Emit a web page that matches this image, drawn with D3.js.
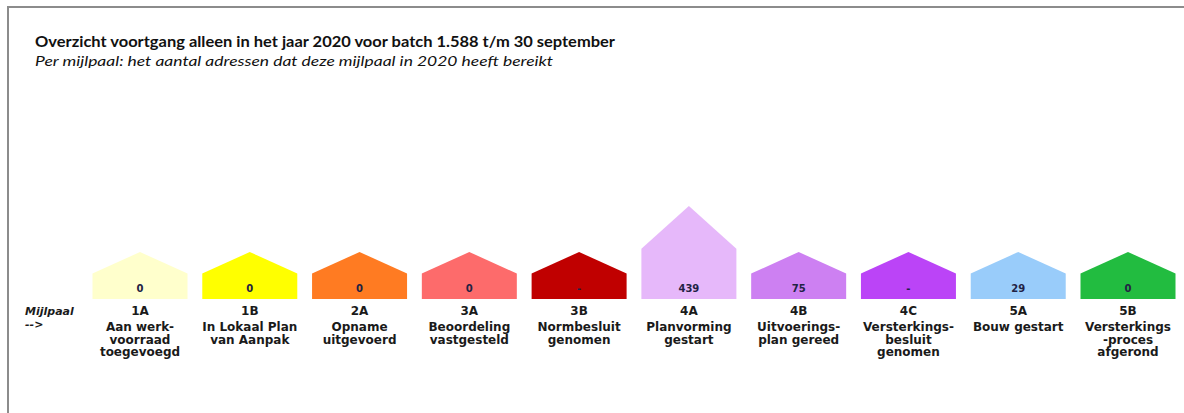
<!DOCTYPE html>
<html><head><meta charset="utf-8">
<script src="https://cdn.jsdelivr.net/npm/d3@7"></script>
<style>html,body{margin:0;padding:0;background:#fff;}svg{display:block;}</style>
</head><body>
<script>
const title = "Overzicht voortgang alleen in het jaar 2020 voor batch 1.588 t/m 30 september";
const subtitle = "Per mijlpaal: het aantal adressen dat deze mijlpaal in 2020 heeft bereikt";
const codes = ["1A","1B","2A","3A","3B","4A","4B","4C","5A","5B"];
const values = [0, 0, 0, 0, null, 439, 75, null, 29, 0];
const labels = [
  ["Aan werk-","voorraad","toegevoegd"],
  ["In Lokaal Plan","van Aanpak"],
  ["Opname","uitgevoerd"],
  ["Beoordeling","vastgesteld"],
  ["Normbesluit","genomen"],
  ["Planvorming","gestart"],
  ["Uitvoerings-","plan gereed"],
  ["Versterkings-","besluit","genomen"],
  ["Bouw gestart"],
  ["Versterkings","-proces","afgerond"]
];
const colors = ["#FFFFCC","#FFFF00","#FF7B22","#FD6B6B","#C00000","#E6B8FA","#CD80F2","#BB44F7","#99CCFA","#22BC40"];
const rowLabel = ["Mijlpaal","-->"];

const W = 1184, H = 413;
const svg = d3.select("body").append("svg").attr("width", W).attr("height", H);

svg.append("rect").attr("x", 8).attr("y", 7).attr("width", W + 10).attr("height", H + 10)
  .attr("fill", "none").attr("stroke", "#8c8c8c").attr("stroke-width", 2);

svg.append("text").attr("x", 35).attr("y", 47).text(title)
  .attr("font-family", "Lato").attr("font-weight", "bold").attr("font-size", 15)
  .attr("fill", "#111").attr("textLength", 580).attr("lengthAdjust", "spacingAndGlyphs");
svg.append("text").attr("x", 35).attr("y", 66).text(subtitle)
  .attr("font-family", "Lato").attr("font-style", "italic").attr("font-size", 13)
  .attr("fill", "#111").attr("textLength", 518).attr("lengthAdjust", "spacingAndGlyphs");

const x = d3.scalePoint().domain(codes).range([140, 1128]);
const houseW = 95;
const baseY = 299;
// house height by value class
const h = d3.scaleThreshold().domain([100]).range([47, 93]);
const roofFrac = 0.46;

const data = codes.map((c, i) => ({code: c, value: values[i], lines: labels[i], color: colors[i]}));

const g = svg.append("g").selectAll("g").data(data).join("g")
  .attr("transform", d => `translate(${x(d.code)},0)`);

g.append("path")
  .attr("d", d => {
    const H0 = h(d.value == null ? 0 : d.value);
    const roof = H0 * roofFrac;
    const hw = houseW / 2;
    return `M${-hw},${baseY} L${-hw},${baseY - H0 + roof} L0,${baseY - H0} L${hw},${baseY - H0 + roof} L${hw},${baseY} Z`;
  })
  .attr("fill", d => d.color);

g.append("text").attr("y", 292).attr("text-anchor", "middle")
  .attr("font-family", "DejaVu Sans").attr("font-weight", "bold").attr("font-size", 10)
  .attr("fill", "#222244")
  .text(d => d.value == null ? "-" : d3.format(",")(d.value));

g.append("text").attr("y", 315).attr("text-anchor", "middle")
  .attr("font-family", "DejaVu Sans").attr("font-weight", "bold").attr("font-size", 12)
  .attr("fill", "#1a1a1a").text(d => d.code);

g.each(function(d) {
  const sel = d3.select(this);
  d.lines.forEach((ln, j) => {
    sel.append("text").attr("y", 331 + j * 12.5).attr("text-anchor", "middle")
      .attr("font-family", "DejaVu Sans").attr("font-weight", "bold").attr("font-size", 12)
      .attr("fill", "#1a1a1a").text(ln);
  });
});

rowLabel.forEach((t, j) => {
  svg.append("text").attr("x", 25).attr("y", 315 + j * 13)
    .attr("font-family", "DejaVu Sans").attr("font-weight", "bold").attr("font-style", "italic")
    .attr("font-size", 11).attr("fill", "#1a1a1a").text(t);
});
</script>
</body></html>
